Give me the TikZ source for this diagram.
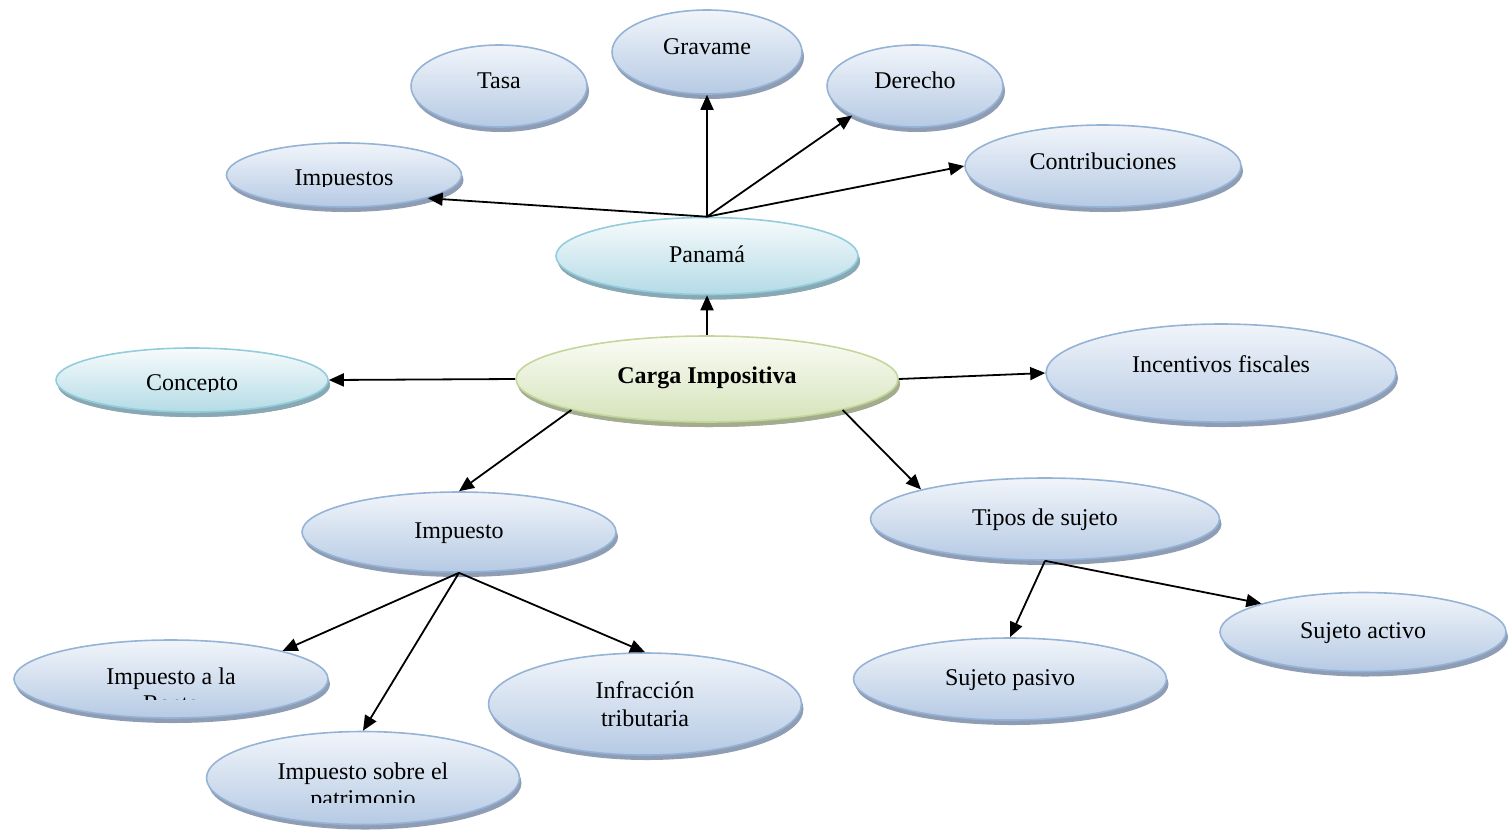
\documentclass[tikz,border=0pt]{standalone}
\usepackage{fontspec}
\setmainfont{Liberation Serif}
\usetikzlibrary{shapes.geometric,shadows,arrows.meta}

\definecolor{bordeAzul}{HTML}{95B3D7}
\definecolor{altoAzul}{HTML}{F1F5FA}
\definecolor{bajoAzul}{HTML}{B6CAE4}
\definecolor{sombraAzul}{HTML}{8E9DB3}
\definecolor{bordeCian}{HTML}{93CDDD}
\definecolor{altoCian}{HTML}{F7FBFC}
\definecolor{bajoCian}{HTML}{B4DBE6}
\definecolor{sombraCian}{HTML}{88A9B3}
\definecolor{bordeVerde}{HTML}{C3D69B}
\definecolor{altoVerde}{HTML}{FBFCF6}
\definecolor{bajoVerde}{HTML}{D5E3BA}
\definecolor{sombraVerde}{HTML}{A3AD8D}

\tikzset{
  burbuja/.style={ellipse, draw=bordeAzul, line width=1.6pt, top color=altoAzul, bottom color=bajoAzul,
    drop shadow={shadow xshift=2pt, shadow yshift=-5pt, fill=sombraAzul, opacity=1},
    inner sep=0pt, align=center, font=\fontsize{24}{28}\selectfont, text height=17pt, text depth=5pt},
  cian/.style={burbuja, draw=bordeCian, top color=altoCian, bottom color=bajoCian,
    drop shadow={shadow xshift=2pt, shadow yshift=-5pt, fill=sombraCian, opacity=1}},
  verde/.style={burbuja, draw=bordeVerde, top color=altoVerde, bottom color=bajoVerde,
    drop shadow={shadow xshift=2pt, shadow yshift=-5pt, fill=sombraVerde, opacity=1}},
  dos lineas/.style={text height=, text depth=},
  subir/.style={text depth=5pt+2*#1},
  texto/.style={inner sep=0pt, align=center, font=\fontsize{24}{27}\selectfont},
  flecha/.style={-{Triangle[length=15pt,width=13pt]}, line width=1.8pt, black},
}

\begin{document}
\begin{tikzpicture}[x=1pt, y=-1pt]
    \useasboundingbox (0,0) rectangle (1512,831);

    % Nodo central
    \node[verde, subir=2pt, minimum width=382pt, minimum height=86pt, font=\fontsize{24}{27}\selectfont\bfseries] (carga) at (707,379) {Carga Impositiva};
    \node[cian, minimum width=302pt, minimum height=77pt] (panama) at (707,256) {Panamá};

    % Rama superior
    \node[burbuja, subir=4pt, minimum width=190pt, minimum height=84pt] (gravame) at (707,52) {Gravame};
    \node[burbuja, subir=4pt, minimum width=176pt, minimum height=82pt] (tasa) at (499,86) {Tasa};
    \node[burbuja, subir=4pt, minimum width=176pt, minimum height=82pt] (derecho) at (915,86) {Derecho};
    \node[burbuja, minimum width=235pt, minimum height=64pt] (impuestos) at (344,175) {};
    \node[burbuja, subir=3pt, minimum width=276pt, minimum height=82pt] (contrib) at (1103,166) {Contribuciones};
    \begin{scope}
        \clip (220,150) rectangle (470,186);
        \node[texto, anchor=base] (impuestosT) at (344,185) {Impuestos};
    \end{scope}

    % Lado izquierdo y derecho
    \node[cian, minimum width=272pt, minimum height=64pt] (concepto) at (192,380) {};
    \begin{scope}
        \clip (50,360) rectangle (330,391);
        \node[texto, anchor=base] (conceptoT) at (192,390) {Concepto};
    \end{scope}
    \node[burbuja, subir=7pt, minimum width=350pt, minimum height=98pt] (incent) at (1221,373) {Incentivos fiscales};

    % Rama Impuesto
    \node[burbuja, minimum width=314pt, minimum height=80pt] (impuesto) at (459,532) {Impuesto};
    \node[burbuja, minimum width=314pt, minimum height=78pt] (renta) at (171,679) {};
    \begin{scope}
        \clip (10,650) rectangle (330,699);
        \node[texto, anchor=base] (rentaT) at (171,711) {Impuesto a la\\Renta};
    \end{scope}
    \node[burbuja, minimum width=313pt, minimum height=93pt] (patrim) at (363,778) {};
    \begin{scope}
        \clip (200,750) rectangle (530,802);
        \node[texto, anchor=base] (patrimT) at (363,806) {Impuesto sobre el\\patrimonio};
    \end{scope}
    \node[burbuja, dos lineas, minimum width=313pt, minimum height=102pt] (infrac) at (645,704) {Infracción\\tributaria};

    % Rama Tipos de sujeto
    \node[burbuja, minimum width=349pt, minimum height=82pt] (tipos) at (1045,519) {Tipos de sujeto};
    \node[burbuja, minimum width=313pt, minimum height=82pt] (pasivo) at (1010,679) {Sujeto pasivo};
    \node[burbuja, minimum width=286pt, minimum height=79pt] (activo) at (1363,632) {Sujeto activo};

    % Flechas
    \draw[flecha] (carga.north) -- (panama.south);
    \draw[flecha] (panama.north) -- (gravame.south);
    \draw[flecha] (panama.north) -- (derecho.south west);
    \draw[flecha] (panama.north) -- (contrib.west);
    \draw[flecha] (panama.north) -- (impuestos.south east);
    \draw[flecha] (carga.west) -- (concepto.east);
    \draw[flecha] (carga.east) -- (incent.west);
    \draw[flecha] (carga.south west) -- (impuesto.north);
    \draw[flecha] (carga.south east) -- (tipos.north west);
    \draw[flecha] (impuesto.south) -- (renta.north east);
    \draw[flecha] (impuesto.south) -- (patrim.north);
    \draw[flecha] (impuesto.south) -- (infrac.north);
    \draw[flecha] (tipos.south) -- (pasivo.north);
    \draw[flecha] (tipos.south) -- (activo.north west);
\end{tikzpicture}
\end{document}
